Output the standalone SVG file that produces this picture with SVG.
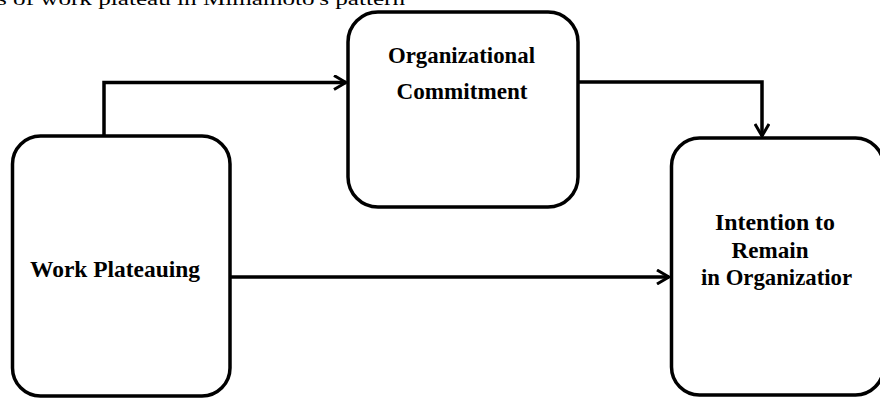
<svg xmlns="http://www.w3.org/2000/svg" width="880" height="398" viewBox="0 0 880 398">
<defs>
<style>
.box{fill:#fff;stroke:#000;stroke-width:3.5}
.lbl{font-family:"Liberation Serif","Times New Roman",serif;font-weight:bold;font-size:23px;fill:#000}
.cap{font-family:"Liberation Serif","Times New Roman",serif;font-size:19px;fill:#000}
.con{fill:none;stroke:#000;stroke-width:3.5}
</style>
<marker id="arr" viewBox="0 0 16 16" refX="14" refY="8" markerWidth="16" markerHeight="16" markerUnits="userSpaceOnUse" orient="auto">
<path d="M2,1 L14,8 L2,15" fill="none" stroke="#000" stroke-width="3"/>
</marker>
</defs>
<rect width="880" height="398" fill="#fff"/>
<text class="cap" x="-3" y="5" textLength="408" lengthAdjust="spacingAndGlyphs">s of work plateau in Mimamoto's pattern</text>
<g id="connectors">
<path class="con" d="M104,137 V82.5 H346" marker-end="url(#arr)"/>
<path class="con" d="M578,82 H762 V136" marker-end="url(#arr)"/>
<path class="con" d="M230,277 H669" marker-end="url(#arr)"/>
</g>
<g id="work-plateauing">
<rect class="box" x="12.5" y="136" width="217.5" height="260" rx="28" ry="28"/>
<text class="lbl" x="115" y="277" text-anchor="middle" textLength="170" lengthAdjust="spacingAndGlyphs">Work Plateauing</text>
</g>
<g id="organizational-commitment">
<rect class="box" x="348" y="12" width="230" height="195" rx="30" ry="30"/>
<text class="lbl" x="461.5" y="63" text-anchor="middle" textLength="147" lengthAdjust="spacingAndGlyphs">Organizational</text>
<text class="lbl" x="462" y="99" text-anchor="middle" textLength="131" lengthAdjust="spacingAndGlyphs">Commitment</text>
</g>
<g id="intention-to-remain">
<rect class="box" x="671.5" y="138" width="212" height="257" rx="28" ry="28"/>
<text class="lbl" x="715" y="230" textLength="120" lengthAdjust="spacingAndGlyphs">Intention to</text>
<text class="lbl" x="731.5" y="258" textLength="77" lengthAdjust="spacingAndGlyphs">Remain</text>
<text class="lbl" x="701" y="285" textLength="151" lengthAdjust="spacingAndGlyphs">in Organizatior</text>
</g>
</svg>
